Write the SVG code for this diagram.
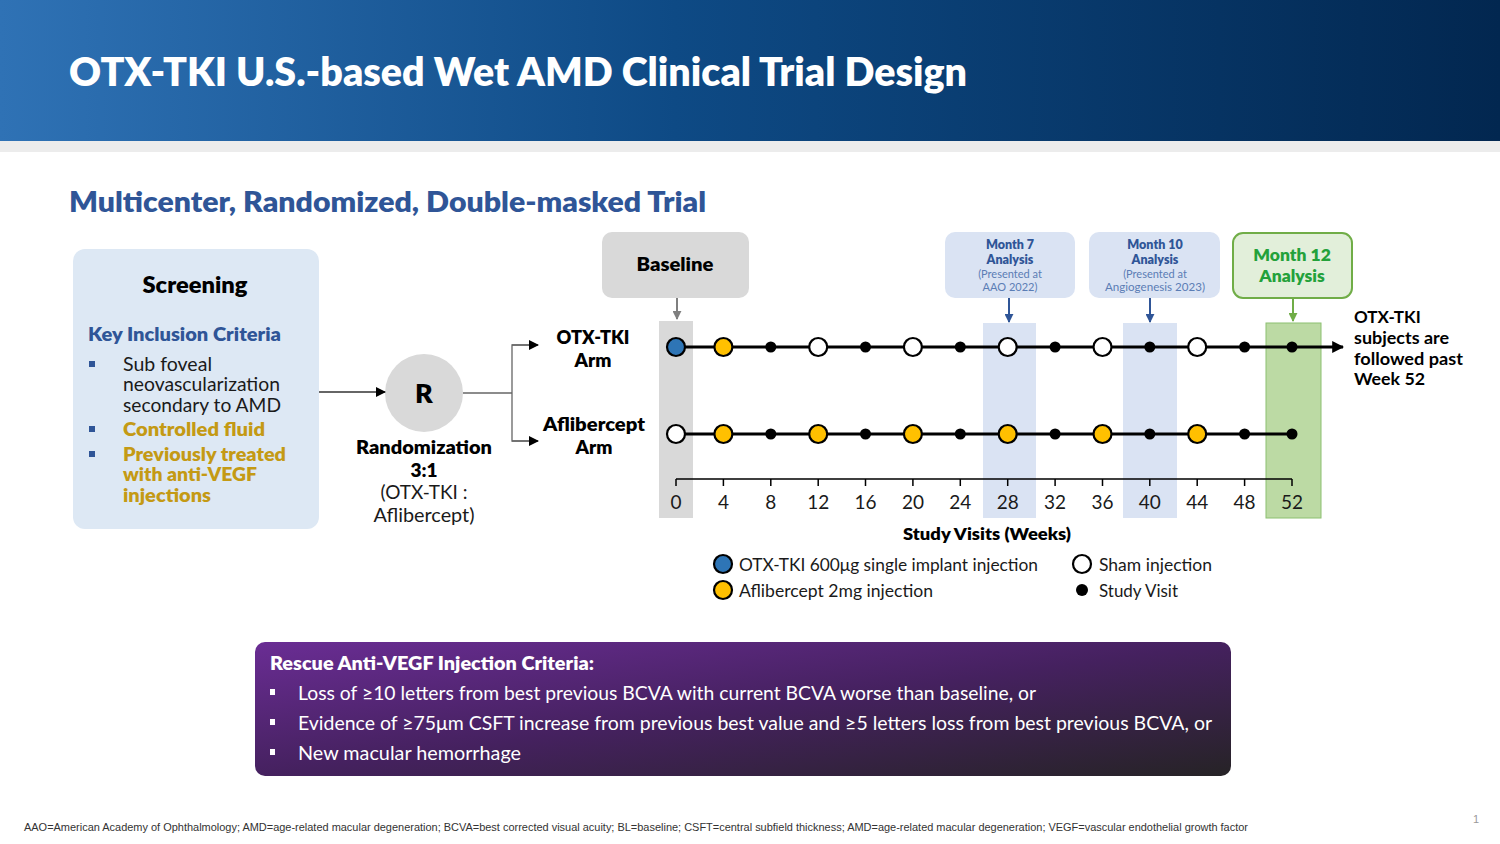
<svg xmlns="http://www.w3.org/2000/svg" width="1500" height="844" viewBox="0 0 1500 844">
<defs>
<linearGradient id="hdr" x1="0" y1="0" x2="1" y2="0">
<stop offset="0" stop-color="#2f72b5"/>
<stop offset="0.45" stop-color="#0e4a85"/>
<stop offset="1" stop-color="#022750"/>
</linearGradient>
<linearGradient id="purp" x1="0" y1="0" x2="1" y2="1">
<stop offset="0" stop-color="#6a2d94"/>
<stop offset="0.5" stop-color="#45215f"/>
<stop offset="1" stop-color="#262326"/>
</linearGradient>
<marker id="ah" viewBox="0 0 10 10" refX="9" refY="5" markerWidth="10" markerHeight="10" markerUnits="userSpaceOnUse" orient="auto"><path d="M0,0 L10,5 L0,10 z" fill="#000"/></marker>
<marker id="ahg" viewBox="0 0 10 10" refX="9" refY="5" markerWidth="9" markerHeight="9" markerUnits="userSpaceOnUse" orient="auto"><path d="M0,0 L10,5 L0,10 z" fill="#7f7f7f"/></marker>
<marker id="ahb" viewBox="0 0 10 10" refX="9" refY="5" markerWidth="9" markerHeight="9" markerUnits="userSpaceOnUse" orient="auto"><path d="M0,0 L10,5 L0,10 z" fill="#2f5597"/></marker>
<marker id="ahgr" viewBox="0 0 10 10" refX="9" refY="5" markerWidth="9" markerHeight="9" markerUnits="userSpaceOnUse" orient="auto"><path d="M0,0 L10,5 L0,10 z" fill="#70ad47"/></marker>
<marker id="ahbig" viewBox="0 0 10 10" refX="9" refY="5" markerWidth="12" markerHeight="12" markerUnits="userSpaceOnUse" orient="auto"><path d="M0,0 L10,5 L0,10 z" fill="#000"/></marker>
</defs>
<style>
text{font-family:Lato,"Open Sans","Liberation Sans",sans-serif;}
.b{font-weight:800;}
.c{text-anchor:middle;}
.body{font-size:19px;fill:#1a1a1a;}
.gold{font-size:19px;fill:#c49a14;font-weight:800;}
.ax{font-size:19px;fill:#1a1a1a;text-anchor:middle;}
.big{stroke:#000;stroke-width:2.2;}
.wht{fill:#fff;}
.yel{fill:#ffc000;}
.blu{fill:#2e75b6;}
.dot{fill:#000;}
.wtxt{fill:#fff;font-size:19px;}
</style>
<rect width="1500" height="844" fill="#fff"/>
<g id="header">
<rect x="0" y="0" width="1500" height="141" fill="url(#hdr)"/>
<rect x="0" y="141" width="1500" height="11" fill="#ececec"/>
<text x="69" y="86" class="b" font-size="40" fill="#fff" textLength="898" lengthAdjust="spacingAndGlyphs">OTX-TKI U.S.-based Wet AMD Clinical Trial Design</text>
</g>
<text x="69" y="212" class="b" font-size="29" fill="#2f5597" textLength="637" lengthAdjust="spacingAndGlyphs">Multicenter, Randomized, Double-masked Trial</text>

<g id="screening">
<rect x="73" y="249" width="246" height="280" rx="12" fill="#dde8f4"/>
<text x="195" y="293" class="b c" font-size="22" fill="#000" textLength="105" lengthAdjust="spacingAndGlyphs">Screening</text>
<text x="88" y="341" class="b" font-size="19" fill="#2f5597" textLength="193" lengthAdjust="spacingAndGlyphs">Key Inclusion Criteria</text>
<rect x="89" y="361" width="6" height="6" fill="#2f5597"/>
<rect x="89" y="426" width="6" height="6" fill="#2f5597"/>
<rect x="89" y="451" width="6" height="6" fill="#2f5597"/>
<text x="123" y="371" class="body" textLength="89" lengthAdjust="spacingAndGlyphs">Sub foveal</text>
<text x="123" y="391" class="body" textLength="157" lengthAdjust="spacingAndGlyphs">neovascularization</text>
<text x="123" y="412" class="body" textLength="158" lengthAdjust="spacingAndGlyphs">secondary to AMD</text>
<text x="123" y="436" class="gold" textLength="142" lengthAdjust="spacingAndGlyphs">Controlled fluid</text>
<text x="123" y="461" class="gold" textLength="163" lengthAdjust="spacingAndGlyphs">Previously treated</text>
<text x="123" y="481" class="gold" textLength="134" lengthAdjust="spacingAndGlyphs">with anti-VEGF</text>
<text x="123" y="502" class="gold" textLength="88" lengthAdjust="spacingAndGlyphs">injections</text>
</g>

<g id="randomization">
<circle cx="424" cy="393" r="39" fill="#d9d9d9"/>
<text x="424" y="403" class="b c" font-size="27" fill="#000">R</text>
<text x="424" y="454" class="b c" font-size="19" fill="#000" textLength="136" lengthAdjust="spacingAndGlyphs">Randomization</text>
<text x="424" y="477" class="b c" font-size="19" fill="#000">3:1</text>
<text x="424" y="499" class="c body" textLength="87" lengthAdjust="spacingAndGlyphs">(OTX-TKI :</text>
<text x="424" y="522" class="c body" textLength="101" lengthAdjust="spacingAndGlyphs">Aflibercept)</text>
</g>

<g id="arms">
<text x="593" y="344" class="b c" font-size="19" fill="#000" textLength="73" lengthAdjust="spacingAndGlyphs">OTX-TKI</text>
<text x="593" y="367" class="b c" font-size="19" fill="#000">Arm</text>
<text x="594" y="431" class="b c" font-size="19" fill="#000" textLength="102" lengthAdjust="spacingAndGlyphs">Aflibercept</text>
<text x="594" y="454" class="b c" font-size="19" fill="#000">Arm</text>
</g>

<g id="baseline">
<rect x="602" y="232" width="147" height="66" rx="10" fill="#d9d9d9"/>
<text x="675" y="271" class="b c" font-size="19" fill="#000" textLength="77" lengthAdjust="spacingAndGlyphs">Baseline</text>
</g>

<g id="month7">
<rect x="945" y="232" width="130" height="66" rx="10" fill="#dae3f3"/>
<text x="1010" y="249" class="b c" font-size="12.5" fill="#2f5597">Month 7</text>
<text x="1010" y="264" class="b c" font-size="12.5" fill="#2f5597">Analysis</text>
<text x="1010" y="278" class="c" font-size="11" fill="#5b7db5">(Presented at</text>
<text x="1010" y="291" class="c" font-size="11" fill="#5b7db5">AAO 2022)</text>
</g>
<g id="month10">
<rect x="1089" y="232" width="131" height="66" rx="10" fill="#dae3f3"/>
<text x="1155" y="249" class="b c" font-size="12.5" fill="#2f5597">Month 10</text>
<text x="1155" y="264" class="b c" font-size="12.5" fill="#2f5597">Analysis</text>
<text x="1155" y="278" class="c" font-size="11" fill="#5b7db5">(Presented at</text>
<text x="1155" y="291" class="c" font-size="11" fill="#5b7db5" textLength="100" lengthAdjust="spacingAndGlyphs">Angiogenesis 2023)</text>
</g>
<g id="month12">
<rect x="1233" y="233" width="119" height="65" rx="10" fill="#e2efda" stroke="#70ad47" stroke-width="2"/>
<text x="1292" y="261" class="b c" font-size="17.5" fill="#23a13a">Month 12</text>
<text x="1292" y="282" class="b c" font-size="17.5" fill="#23a13a">Analysis</text>
</g>

<g id="columns">
<rect x="659" y="321" width="34" height="197" fill="#d9d9d9"/>
<rect x="983" y="323" width="53" height="195" fill="#dae3f3"/>
<rect x="1123" y="323" width="54" height="195" fill="#dae3f3"/>
<rect x="1266" y="323" width="55" height="195" fill="#bcdaa4" stroke="#8cc071" stroke-width="1"/>
</g>

<g id="connectors" fill="none">
<line x1="319" y1="392" x2="385" y2="392" stroke="#333" stroke-width="1.3" marker-end="url(#ah)"/>
<line x1="463" y1="393" x2="512" y2="393" stroke="#666" stroke-width="1.3"/>
<polyline points="538,345 512,345 512,441 538,441" stroke="#666" stroke-width="1.3"/>
<line x1="512" y1="345" x2="538" y2="345" stroke="#666" stroke-width="1.3" marker-end="url(#ah)"/>
<line x1="512" y1="441" x2="538" y2="441" stroke="#666" stroke-width="1.3" marker-end="url(#ah)"/>
<line x1="677" y1="298" x2="677" y2="319" stroke="#7f7f7f" stroke-width="2" marker-end="url(#ahg)"/>
<line x1="1009" y1="298" x2="1009" y2="322" stroke="#2f5597" stroke-width="2" marker-end="url(#ahb)"/>
<line x1="1150" y1="298" x2="1150" y2="322" stroke="#2f5597" stroke-width="2" marker-end="url(#ahb)"/>
<line x1="1293" y1="298" x2="1293" y2="321" stroke="#70ad47" stroke-width="2" marker-end="url(#ahgr)"/>
<line x1="676" y1="347" x2="1343" y2="347" stroke="#000" stroke-width="3" marker-end="url(#ahbig)"/>
<line x1="676" y1="434" x2="1292" y2="434" stroke="#000" stroke-width="3"/>
<path d="M676,479 H1292 M676,479 V486 M723.4,479 V486 M770.8,479 V486 M818.2,479 V486 M865.5,479 V486 M912.9,479 V486 M960.3,479 V486 M1007.7,479 V486 M1055.1,479 V486 M1102.5,479 V486 M1149.8,479 V486 M1197.2,479 V486 M1244.6,479 V486 M1292,479 V486" stroke="#000" stroke-width="1.5"/>
</g>

<g id="otx-row">
<circle cx="676" cy="347" r="9" class="big blu"/>
<circle cx="723.4" cy="347" r="9" class="big yel"/>
<circle cx="770.8" cy="347" r="5.5" class="dot"/>
<circle cx="818.2" cy="347" r="9" class="big wht"/>
<circle cx="865.5" cy="347" r="5.5" class="dot"/>
<circle cx="912.9" cy="347" r="9" class="big wht"/>
<circle cx="960.3" cy="347" r="5.5" class="dot"/>
<circle cx="1007.7" cy="347" r="9" class="big wht"/>
<circle cx="1055.1" cy="347" r="5.5" class="dot"/>
<circle cx="1102.5" cy="347" r="9" class="big wht"/>
<circle cx="1149.8" cy="347" r="5.5" class="dot"/>
<circle cx="1197.2" cy="347" r="9" class="big wht"/>
<circle cx="1244.6" cy="347" r="5.5" class="dot"/>
<circle cx="1292" cy="347" r="5.5" class="dot"/>
</g>
<g id="aflib-row">
<circle cx="676" cy="434" r="9" class="big wht"/>
<circle cx="723.4" cy="434" r="9" class="big yel"/>
<circle cx="770.8" cy="434" r="5.5" class="dot"/>
<circle cx="818.2" cy="434" r="9" class="big yel"/>
<circle cx="865.5" cy="434" r="5.5" class="dot"/>
<circle cx="912.9" cy="434" r="9" class="big yel"/>
<circle cx="960.3" cy="434" r="5.5" class="dot"/>
<circle cx="1007.7" cy="434" r="9" class="big yel"/>
<circle cx="1055.1" cy="434" r="5.5" class="dot"/>
<circle cx="1102.5" cy="434" r="9" class="big yel"/>
<circle cx="1149.8" cy="434" r="5.5" class="dot"/>
<circle cx="1197.2" cy="434" r="9" class="big yel"/>
<circle cx="1244.6" cy="434" r="5.5" class="dot"/>
<circle cx="1292" cy="434" r="5.5" class="dot"/>
</g>

<g id="axis-labels">
<text x="676" y="509" class="ax">0</text>
<text x="723.4" y="509" class="ax">4</text>
<text x="770.8" y="509" class="ax">8</text>
<text x="818.2" y="509" class="ax">12</text>
<text x="865.5" y="509" class="ax">16</text>
<text x="912.9" y="509" class="ax">20</text>
<text x="960.3" y="509" class="ax">24</text>
<text x="1007.7" y="509" class="ax">28</text>
<text x="1055.1" y="509" class="ax">32</text>
<text x="1102.5" y="509" class="ax">36</text>
<text x="1149.8" y="509" class="ax">40</text>
<text x="1197.2" y="509" class="ax">44</text>
<text x="1244.6" y="509" class="ax">48</text>
<text x="1292" y="509" class="ax">52</text>
<text x="987" y="540" class="b c" font-size="17" fill="#000" textLength="168" lengthAdjust="spacingAndGlyphs">Study Visits (Weeks)</text>
</g>

<g id="followed">
<text x="1354" y="323" font-weight="700" font-size="17" fill="#000">OTX-TKI</text>
<text x="1354" y="344" font-weight="700" font-size="17" fill="#000" textLength="95" lengthAdjust="spacingAndGlyphs">subjects are</text>
<text x="1354" y="365" font-weight="700" font-size="17" fill="#000" textLength="109" lengthAdjust="spacingAndGlyphs">followed past</text>
<text x="1354" y="385" font-weight="700" font-size="17" fill="#000" textLength="71" lengthAdjust="spacingAndGlyphs">Week 52</text>
</g>

<g id="legend">
<circle cx="723" cy="564" r="9" class="big blu"/>
<text x="739" y="571" font-size="17" fill="#1a1a1a" textLength="299" lengthAdjust="spacingAndGlyphs">OTX-TKI 600μg single implant injection</text>
<circle cx="723" cy="590" r="9" class="big yel"/>
<text x="739" y="597" font-size="17" fill="#1a1a1a" textLength="194" lengthAdjust="spacingAndGlyphs">Aflibercept 2mg injection</text>
<circle cx="1082" cy="564" r="9" class="big wht"/>
<text x="1099" y="571" font-size="17" fill="#1a1a1a" textLength="113" lengthAdjust="spacingAndGlyphs">Sham injection</text>
<circle cx="1082" cy="590" r="6" class="dot"/>
<text x="1099" y="597" font-size="17" fill="#1a1a1a" textLength="79" lengthAdjust="spacingAndGlyphs">Study Visit</text>
</g>

<g id="rescue">
<rect x="255" y="642" width="976" height="134" rx="10" fill="url(#purp)"/>
<text x="270" y="670" class="b" font-size="18" fill="#fff" textLength="324" lengthAdjust="spacingAndGlyphs">Rescue Anti-VEGF Injection Criteria:</text>
<rect x="270" y="689" width="5" height="6" fill="#fff"/>
<rect x="270" y="719" width="5" height="6" fill="#fff"/>
<rect x="270" y="749" width="5" height="6" fill="#fff"/>
<text x="298" y="700" class="wtxt" textLength="738" lengthAdjust="spacingAndGlyphs">Loss of ≥10 letters from best previous BCVA with current BCVA worse than baseline, or</text>
<text x="298" y="730" class="wtxt" textLength="914" lengthAdjust="spacingAndGlyphs">Evidence of ≥75μm CSFT increase from previous best value and ≥5 letters loss from best previous BCVA, or</text>
<text x="298" y="760" class="wtxt" textLength="223" lengthAdjust="spacingAndGlyphs">New macular hemorrhage</text>
</g>

<g id="footer">
<text x="24" y="831" style="font-family:'Liberation Sans',Arial,sans-serif" font-size="10.5" fill="#333" textLength="1224" lengthAdjust="spacingAndGlyphs">AAO=American Academy of Ophthalmology; AMD=age-related macular degeneration; BCVA=best corrected visual acuity; BL=baseline; CSFT=central subfield thickness; AMD=age-related macular degeneration; VEGF=vascular endothelial growth factor</text>
<text x="1473" y="823" style="font-family:'Liberation Sans',Arial,sans-serif" font-size="11" fill="#999">1</text>
</g>
</svg>
